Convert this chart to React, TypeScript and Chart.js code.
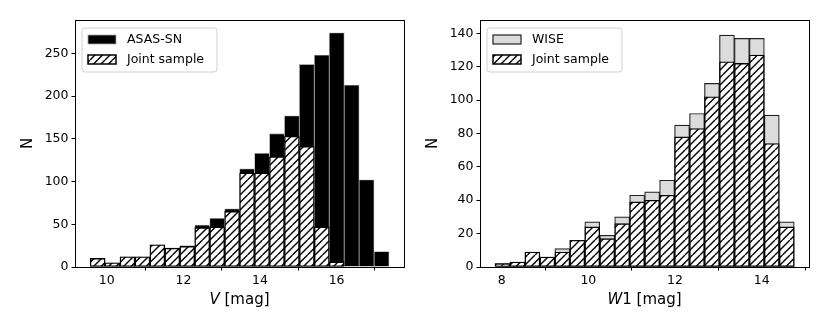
import React, { useEffect, useRef } from "react";
import { Chart, registerables } from "chart.js";

Chart.register(...registerables);

// ---------- data ----------
const vBinCenters = [
  9.760, 10.150, 10.540, 10.931, 11.321, 11.711, 12.101, 12.492, 12.882, 13.272,
  13.662, 14.053, 14.443, 14.833, 15.223, 15.614, 16.004, 16.394, 16.784, 17.175,
];
const asasCounts = [10, 5, 12, 12, 26, 22, 25, 49, 57, 68, 115, 133, 156, 177, 237, 248, 274, 213, 102, 18];
const jointVCounts = [10, 5, 12, 12, 26, 22, 24, 46, 47, 65, 110, 110, 129, 153, 141, 47, 6, 0, 0, 0];

const w1BinCenters = [
  8.019, 8.364, 8.709, 9.054, 9.400, 9.745, 10.090, 10.435, 10.780, 11.125,
  11.471, 11.816, 12.161, 12.506, 12.851, 13.197, 13.542, 13.887, 14.232, 14.577,
];
const wiseCounts = [2, 3, 9, 6, 11, 16, 27, 19, 30, 43, 45, 52, 85, 92, 110, 139, 137, 137, 91, 27];
const jointW1Counts = [2, 3, 9, 6, 9, 16, 24, 17, 26, 39, 40, 43, 78, 83, 102, 123, 122, 127, 74, 24];

const vTicks = [10, 12, 14, 16];
const nTicksLeft = [0, 50, 100, 150, 200, 250];
const w1Ticks = [8, 10, 12, 14];
const nTicksRight = [0, 20, 40, 60, 80, 100, 120, 140];

const FONT = '"DejaVu Sans", "Liberation Sans", sans-serif';

function makeHatch(): CanvasPattern | string {
  const s = 15;
  const c = document.createElement("canvas");
  c.width = s;
  c.height = s;
  const ctx = c.getContext("2d");
  if (!ctx) return "#fff";
  ctx.fillStyle = "#fff";
  ctx.fillRect(0, 0, s, s);
  ctx.strokeStyle = "#000";
  ctx.lineWidth = 1.4;
  for (const k of [-s, -s / 2, 0, s / 2, s]) {
    ctx.beginPath();
    ctx.moveTo(k, s);
    ctx.lineTo(k + s, 0);
    ctx.stroke();
  }
  return ctx.createPattern(c, "repeat") || "#fff";
}

type PanelSpec = {
  centers: number[];
  back: number[];
  front: number[];
  backLabel: string;
  backFill: string;
  backBorder: string;
  backBorderWidth: number;
  xMin: number;
  xMax: number;
  yMax: number;
  xTicks: number[];
  yTicks: number[];
  yAxisWidth: number;
  padRight: number;
  yTitleX: number;
  xItalic: string;
  xRest: string;
};

function buildChart(canvas: HTMLCanvasElement, p: PanelSpec): Chart {
  const hatch = makeHatch();
  const decor = {
    id: "decor",
    afterDatasetsDraw(chart: any) {
      const ctx = chart.ctx as CanvasRenderingContext2D;
      const a = chart.chartArea;
      ctx.save();
      // frame
      ctx.strokeStyle = "#000";
      ctx.lineWidth = 1;
      ctx.strokeRect(Math.round(a.left) + 0.5, Math.round(a.top) + 0.5, Math.round(a.right - a.left), Math.round(a.bottom - a.top));

      // legend
      const lx = a.left + 7;
      const ly = a.top + 8;
      const lw = 135;
      const lh = 44;
      ctx.beginPath();
      const r = 3;
      ctx.moveTo(lx + r, ly);
      ctx.lineTo(lx + lw - r, ly);
      ctx.quadraticCurveTo(lx + lw, ly, lx + lw, ly + r);
      ctx.lineTo(lx + lw, ly + lh - r);
      ctx.quadraticCurveTo(lx + lw, ly + lh, lx + lw - r, ly + lh);
      ctx.lineTo(lx + r, ly + lh);
      ctx.quadraticCurveTo(lx, ly + lh, lx, ly + lh - r);
      ctx.lineTo(lx, ly + r);
      ctx.quadraticCurveTo(lx, ly, lx + r, ly);
      ctx.closePath();
      ctx.fillStyle = "rgba(255,255,255,0.8)";
      ctx.fill();
      ctx.strokeStyle = "#d0d0d0";
      ctx.lineWidth = 1;
      ctx.stroke();

      const px = lx + 6;
      const pw = 28;
      const ph = 9;
      const items = [
        { label: p.backLabel, fill: p.backFill as any, border: p.backBorder, bw: p.backBorderWidth, cy: ly + 11.5 },
        { label: "Joint sample", fill: hatch as any, border: "#000", bw: 1.5, cy: ly + 31.5 },
      ];
      ctx.font = `12.5px ${FONT}`;
      ctx.textBaseline = "middle";
      ctx.textAlign = "left";
      for (const it of items) {
        ctx.fillStyle = it.fill;
        ctx.fillRect(px, it.cy - ph / 2, pw, ph);
        ctx.strokeStyle = it.border;
        ctx.lineWidth = it.bw;
        ctx.strokeRect(px, it.cy - ph / 2, pw, ph);
        ctx.fillStyle = "#000";
        ctx.fillText(it.label, px + pw + 11, it.cy + 0.5);
      }

      // x title
      const cx = (a.left + a.right) / 2;
      const italicFont = `italic 15px ${FONT}`;
      const normalFont = `15px ${FONT}`;
      ctx.font = italicFont;
      const w1 = ctx.measureText(p.xItalic).width;
      ctx.font = normalFont;
      const w2 = ctx.measureText(p.xRest).width;
      const start = cx - (w1 + w2) / 2;
      ctx.textBaseline = "alphabetic";
      ctx.textAlign = "left";
      ctx.fillStyle = "#000";
      ctx.font = italicFont;
      ctx.fillText(p.xItalic, start, 303.5);
      ctx.font = normalFont;
      ctx.fillText(p.xRest, start + w1, 303.5);

      // y title
      ctx.translate(p.yTitleX, (a.top + a.bottom) / 2);
      ctx.rotate(-Math.PI / 2);
      ctx.textAlign = "center";
      ctx.textBaseline = "middle";
      ctx.font = normalFont;
      ctx.fillText("N", 0, 0);
      ctx.restore();
    },
  };

  return new Chart(canvas, {
    type: "bar",
    data: {
      labels: p.centers,
      datasets: [
        {
          label: "Joint sample",
          data: p.centers.map((x, i) => ({ x, y: p.front[i] })),
          backgroundColor: hatch as any,
          borderColor: "#000",
          borderWidth: 1.4,
          borderSkipped: false,
          barPercentage: 1,
          categoryPercentage: 1,
          grouped: false,
        } as any,
        {
          label: p.backLabel,
          data: p.centers.map((x, i) => ({ x, y: p.back[i] })),
          backgroundColor: p.backFill,
          borderColor: p.backBorder,
          borderWidth: p.backBorderWidth,
          borderSkipped: false,
          barPercentage: 1,
          categoryPercentage: 1,
          grouped: false,
        } as any,
      ],
    },
    options: {
      responsive: false,
      animation: false,
      maintainAspectRatio: false,
      layout: { padding: { left: 0, top: 20, right: p.padRight, bottom: 0 } },
      plugins: { legend: { display: false }, tooltip: { enabled: false } },
      scales: {
        x: {
          type: "linear",
          min: p.xMin,
          max: p.xMax,
          offset: false,
          afterBuildTicks: (s: any) => {
            s.ticks = p.xTicks.map((v) => ({ value: v }));
          },
          afterFit: (s: any) => {
            s.height = 65;
          },
          grid: { display: true, drawOnChartArea: false, drawTicks: true, tickLength: 3.5, color: "#000" },
          border: { display: false },
          ticks: { color: "#000", padding: 3, maxRotation: 0, font: { family: FONT, size: 12.5 } },
        },
        y: {
          type: "linear",
          min: 0,
          max: p.yMax,
          afterBuildTicks: (s: any) => {
            s.ticks = p.yTicks.map((v) => ({ value: v }));
          },
          afterFit: (s: any) => {
            s.width = p.yAxisWidth;
          },
          grid: { display: true, drawOnChartArea: false, drawTicks: true, tickLength: 3.5, color: "#000" },
          border: { display: false },
          ticks: { color: "#000", padding: 3, font: { family: FONT, size: 12.5 } },
        },
      },
    } as any,
    plugins: [decor],
  });
}

function Panel({ spec, left }: { spec: PanelSpec; left: number }) {
  const ref = useRef<HTMLCanvasElement | null>(null);
  useEffect(() => {
    if (!ref.current) return;
    const chart = buildChart(ref.current, spec);
    return () => chart.destroy();
  }, []);
  return (
    <canvas
      ref={ref}
      width={415}
      height={332}
      style={{ position: "absolute", left, top: 0, width: 415, height: 332 }}
    />
  );
}

const leftSpec: PanelSpec = {
  centers: vBinCenters,
  back: asasCounts,
  front: jointVCounts,
  backLabel: "ASAS-SN",
  backFill: "#000",
  backBorder: "#a8a8a8",
  backBorderWidth: 0.8,
  xMin: 9.17,
  xMax: 17.76,
  yMax: 289,
  xTicks: vTicks,
  yTicks: nTicksLeft,
  yAxisWidth: 75,
  padRight: 11,
  yTitleX: 28,
  xItalic: "V",
  xRest: " [mag]",
};

const rightSpec: PanelSpec = {
  centers: w1BinCenters,
  back: wiseCounts,
  front: jointW1Counts,
  backLabel: "WISE",
  backFill: "#dcdcdc",
  backBorder: "#222",
  backBorderWidth: 1.2,
  xMin: 7.5,
  xMax: 15.09,
  yMax: 148,
  xTicks: w1Ticks,
  yTicks: nTicksRight,
  yAxisWidth: 65,
  padRight: 21,
  yTitleX: 18,
  xItalic: "W",
  xRest: "1 [mag]",
};

export default function App() {
  return (
    <div style={{ position: "absolute", left: 0, top: 0, width: 830, height: 332, background: "#fff" }}>
      <Panel spec={leftSpec} left={0} />
      <Panel spec={rightSpec} left={415} />
    </div>
  );
}
